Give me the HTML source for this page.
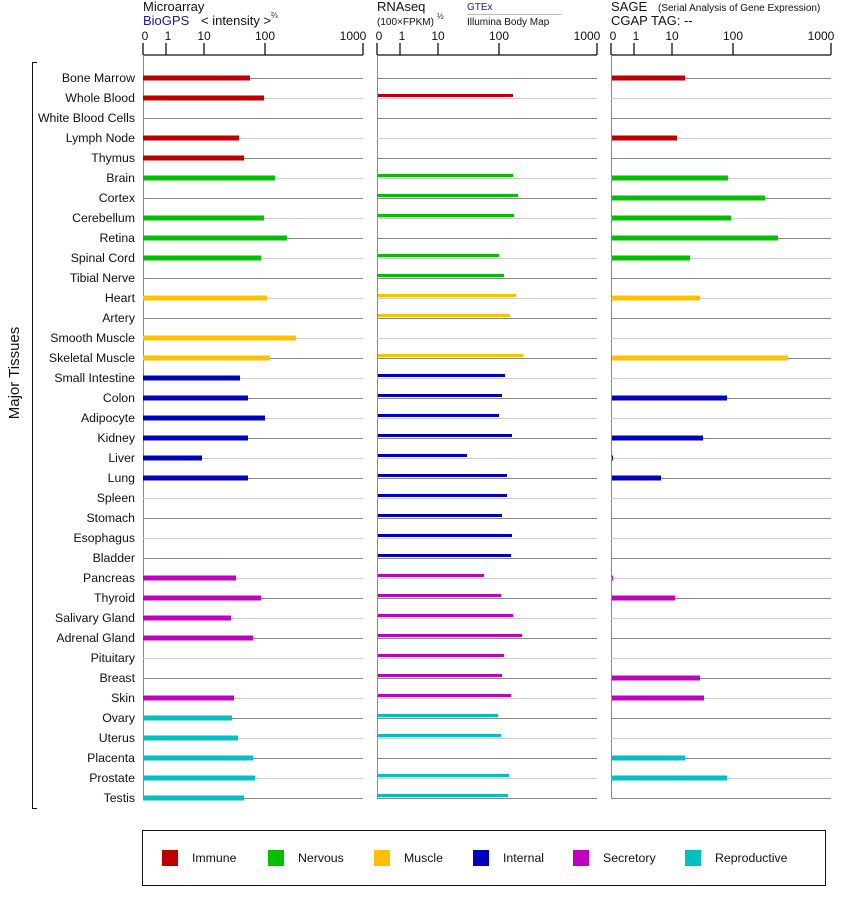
<!DOCTYPE html>
<html><head><meta charset="utf-8"><style>
body{margin:0;background:#fff;}
svg{display:block;font-family:"Liberation Sans",Arial,sans-serif;}
.l{font-size:12.3px;fill:#111;text-anchor:end}
.t{font-size:12px;fill:#111;text-anchor:middle}
.g0{stroke:#888;stroke-width:1}
.g1{stroke:#ccc;stroke-width:1}
.lg{font-size:12.3px;fill:#111}
</style></head><body>
<svg width="842" height="900" viewBox="0 0 842 900" xmlns="http://www.w3.org/2000/svg">
<text x="143" y="11" font-size="13" fill="#111">Microarray</text>
<text x="143" y="25" font-size="13" fill="#1a1aa0">BioGPS</text>
<text x="201" y="25" font-size="13" fill="#111">&lt; intensity &gt;</text>
<text x="271" y="18" font-size="8" fill="#111">⅔</text>
<text x="377" y="11" font-size="13" fill="#111">RNAseq</text>
<text x="377" y="25" font-size="10" fill="#111">(100×FPKM)</text>
<text x="437" y="19" font-size="8" fill="#111">½</text>
<text x="467" y="10" font-size="10" fill="#1a1aa0">GTEx</text>
<line x1="467" y1="14.5" x2="562" y2="14.5" stroke="#bbb"/>
<text x="467" y="25" font-size="10" fill="#111">Illumina Body Map</text>
<text x="611" y="11" font-size="13" fill="#111">SAGE</text>
<text x="658" y="11" font-size="10" fill="#111">(Serial Analysis of Gene Expression)</text>
<text x="611" y="25" font-size="13" fill="#111">CGAP TAG:  --</text>

<g stroke="#111" stroke-width="1.3" fill="none">
<line x1="143" y1="55" x2="363" y2="55"/>
<line x1="143" y1="43" x2="143" y2="55"/><line x1="166" y1="43" x2="166" y2="55"/><line x1="204" y1="43" x2="204" y2="55"/><line x1="265" y1="43" x2="265" y2="55"/><line x1="363" y1="43" x2="363" y2="55"/>
<line x1="377" y1="55" x2="597" y2="55"/>
<line x1="377" y1="43" x2="377" y2="55"/><line x1="400" y1="43" x2="400" y2="55"/><line x1="438" y1="43" x2="438" y2="55"/><line x1="499" y1="43" x2="499" y2="55"/><line x1="597" y1="43" x2="597" y2="55"/>
<line x1="611" y1="55" x2="831" y2="55"/>
<line x1="611" y1="43" x2="611" y2="55"/><line x1="634" y1="43" x2="634" y2="55"/><line x1="672" y1="43" x2="672" y2="55"/><line x1="733" y1="43" x2="733" y2="55"/><line x1="831" y1="43" x2="831" y2="55"/>
</g>
<g class="t">
<text x="145" y="40">0</text><text x="168" y="40">1</text><text x="204" y="40">10</text><text x="265" y="40">100</text><text x="353" y="40">1000</text>
<text x="379" y="40">0</text><text x="402" y="40">1</text><text x="438" y="40">10</text><text x="499" y="40">100</text><text x="587" y="40">1000</text>
<text x="613" y="40">0</text><text x="636" y="40">1</text><text x="672" y="40">10</text><text x="733" y="40">100</text><text x="821" y="40">1000</text>
</g>
<g stroke="#888" stroke-width="1">
<line x1="143.5" y1="55" x2="143.5" y2="798"/>
<line x1="377.5" y1="55" x2="377.5" y2="798"/>
<line x1="611.5" y1="55" x2="611.5" y2="798"/>
</g>

<g class="g0"><line x1="143" y1="78.5" x2="363" y2="78.5"/><line x1="377" y1="78.5" x2="597" y2="78.5"/><line x1="611" y1="78.5" x2="831" y2="78.5"/></g>
<g class="g1">
<path d="M143 98.5H363M377 98.5H597M611 98.5H831 M143 138.5H363M377 138.5H597M611 138.5H831 M143 178.5H363M377 178.5H597M611 178.5H831 M143 218.5H363M377 218.5H597M611 218.5H831 M143 258.5H363M377 258.5H597M611 258.5H831 M143 298.5H363M377 298.5H597M611 298.5H831 M143 338.5H363M377 338.5H597M611 338.5H831 M143 378.5H363M377 378.5H597M611 378.5H831 M143 418.5H363M377 418.5H597M611 418.5H831 M143 458.5H363M377 458.5H597M611 458.5H831 M143 498.5H363M377 498.5H597M611 498.5H831 M143 538.5H363M377 538.5H597M611 538.5H831 M143 578.5H363M377 578.5H597M611 578.5H831 M143 618.5H363M377 618.5H597M611 618.5H831 M143 658.5H363M377 658.5H597M611 658.5H831 M143 698.5H363M377 698.5H597M611 698.5H831 M143 738.5H363M377 738.5H597M611 738.5H831 M143 778.5H363M377 778.5H597M611 778.5H831"/>
</g>
<g class="g0">
<path d="M143 118.5H363M377 118.5H597M611 118.5H831 M143 158.5H363M377 158.5H597M611 158.5H831 M143 198.5H363M377 198.5H597M611 198.5H831 M143 238.5H363M377 238.5H597M611 238.5H831 M143 278.5H363M377 278.5H597M611 278.5H831 M143 318.5H363M377 318.5H597M611 318.5H831 M143 358.5H363M377 358.5H597M611 358.5H831 M143 398.5H363M377 398.5H597M611 398.5H831 M143 438.5H363M377 438.5H597M611 438.5H831 M143 478.5H363M377 478.5H597M611 478.5H831 M143 518.5H363M377 518.5H597M611 518.5H831 M143 558.5H363M377 558.5H597M611 558.5H831 M143 598.5H363M377 598.5H597M611 598.5H831 M143 638.5H363M377 638.5H597M611 638.5H831 M143 678.5H363M377 678.5H597M611 678.5H831 M143 718.5H363M377 718.5H597M611 718.5H831 M143 758.5H363M377 758.5H597M611 758.5H831 M143 798.5H363M377 798.5H597M611 798.5H831"/>
</g>

<g class="l">
<text x="135" y="82">Bone Marrow</text><text x="135" y="102">Whole Blood</text><text x="135" y="122">White Blood Cells</text><text x="135" y="142">Lymph Node</text><text x="135" y="162">Thymus</text>
<text x="135" y="182">Brain</text><text x="135" y="202">Cortex</text><text x="135" y="222">Cerebellum</text><text x="135" y="242">Retina</text><text x="135" y="262">Spinal Cord</text><text x="135" y="282">Tibial Nerve</text>
<text x="135" y="302">Heart</text><text x="135" y="322">Artery</text><text x="135" y="342">Smooth Muscle</text><text x="135" y="362">Skeletal Muscle</text>
<text x="135" y="382">Small Intestine</text><text x="135" y="402">Colon</text><text x="135" y="422">Adipocyte</text><text x="135" y="442">Kidney</text><text x="135" y="462">Liver</text><text x="135" y="482">Lung</text><text x="135" y="502">Spleen</text><text x="135" y="522">Stomach</text><text x="135" y="542">Esophagus</text><text x="135" y="562">Bladder</text>
<text x="135" y="582">Pancreas</text><text x="135" y="602">Thyroid</text><text x="135" y="622">Salivary Gland</text><text x="135" y="642">Adrenal Gland</text><text x="135" y="662">Pituitary</text><text x="135" y="682">Breast</text><text x="135" y="702">Skin</text>
<text x="135" y="722">Ovary</text><text x="135" y="742">Uterus</text><text x="135" y="762">Placenta</text><text x="135" y="782">Prostate</text><text x="135" y="802">Testis</text>
</g>
<path d="M37 62.5H32.5V808.5H37" stroke="#111" fill="none"/>
<text transform="translate(19,373) rotate(-90)" font-size="15" fill="#111" text-anchor="middle">Major Tissues</text>

<g stroke-width="5">
<g stroke="#c00000"><path d="M143 78H250M143 98H264M143 138H239M143 158H244"/></g>
<g stroke="#00c000"><path d="M143 178H275M143 218H264M143 238H287M143 258H261"/></g>
<g stroke="#ffc000"><path d="M143 298H267M143 338H296M143 358H270"/></g>
<g stroke="#0000c0"><path d="M143 378H240M143 398H248M143 418H265M143 438H248M143 458H202M143 478H248"/></g>
<g stroke="#c000c0"><path d="M143 578H236M143 598H261M143 618H231M143 638H253M143 698H234"/></g>
<g stroke="#00c0c0"><path d="M143 718H232M143 738H238M143 758H253M143 778H255M143 798H244"/></g>
</g>
<g stroke-width="3">
<g stroke="#c00000"><path d="M378 95.5H513"/></g>
<g stroke="#00c000"><path d="M378 175.5H513M378 195.5H518M378 215.5H514M378 255.5H499M378 275.5H504"/></g>
<g stroke="#ffc000"><path d="M378 295.5H516M378 315.5H510M378 355.5H523"/></g>
<g stroke="#0000c0"><path d="M378 375.5H505M378 395.5H502M378 415.5H499M378 435.5H512M378 455.5H467M378 475.5H507M378 495.5H507M378 515.5H502M378 535.5H512M378 555.5H511"/></g>
<g stroke="#c000c0"><path d="M378 575.5H484M378 595.5H501M378 615.5H513M378 635.5H522M378 655.5H504M378 675.5H502M378 695.5H511"/></g>
<g stroke="#00c0c0"><path d="M378 715.5H498M378 735.5H501M378 775.5H509M378 795.5H508"/></g>
</g>
<g stroke-width="5">
<g stroke="#c00000"><path d="M612 78H685M612 138H677"/></g>
<g stroke="#00c000"><path d="M612 178H728M612 198H765M612 218H731M612 238H778M612 258H690"/></g>
<g stroke="#ffc000"><path d="M612 298H700M612 358H788"/></g>
<g stroke="#0000c0"><path d="M612 398H727M612 438H703M612 458H613M612 478H661"/></g>
<g stroke="#c000c0"><path d="M612 578H613M612 598H675M612 678H700M612 698H704"/></g>
<g stroke="#00c0c0"><path d="M612 758H685M612 778H727"/></g>
</g>

<rect x="142.5" y="830.5" width="683" height="55" fill="none" stroke="#111" stroke-width="1"/>
<rect x="162" y="850" width="16" height="16" fill="#c00000"/><text class="lg" x="192" y="862">Immune</text>
<rect x="268" y="850" width="16" height="16" fill="#00c000"/><text class="lg" x="298" y="862">Nervous</text>
<rect x="374" y="850" width="16" height="16" fill="#ffc000"/><text class="lg" x="404" y="862">Muscle</text>
<rect x="473" y="850" width="16" height="16" fill="#0000c0"/><text class="lg" x="503" y="862">Internal</text>
<rect x="573" y="850" width="16" height="16" fill="#c000c0"/><text class="lg" x="603" y="862">Secretory</text>
<rect x="685" y="850" width="16" height="16" fill="#00c0c0"/><text class="lg" x="715" y="862">Reproductive</text>
</svg>
</body></html>
